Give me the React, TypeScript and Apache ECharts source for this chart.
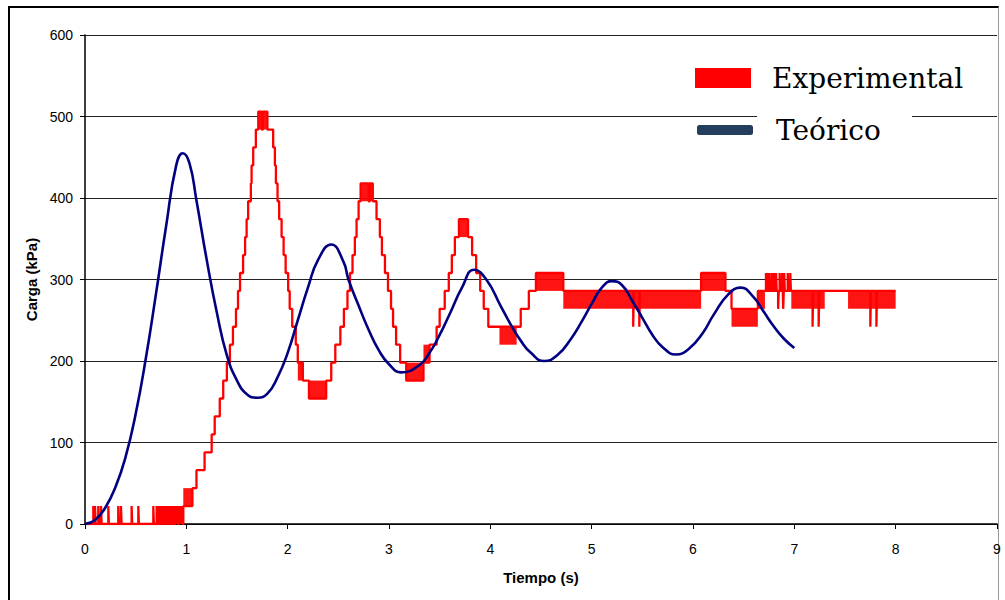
import React, { useEffect, useRef } from "react";
import * as echarts from "echarts";

// Theoretical load (kPa) vs time (s)
const theoretical: [number, number][] = [
  [0.0, 0], [0.1, 5], [0.2, 20], [0.3, 45], [0.4, 82], [0.5, 135], [0.6, 203],
  [0.7, 282], [0.8, 365], [0.9, 440], [0.965, 455], [1.03, 443], [1.1, 397],
  [1.2, 325], [1.3, 260], [1.4, 207], [1.5, 176], [1.6, 159], [1.7, 155],
  [1.8, 160], [1.9, 180], [2.0, 210], [2.1, 250], [2.2, 290], [2.3, 324],
  [2.43, 343], [2.55, 322], [2.6, 300], [2.7, 268], [2.8, 238],
  [2.9, 213], [3.0, 196], [3.12, 186], [3.3, 195], [3.4, 210],
  [3.5, 232], [3.6, 258], [3.72, 290], [3.84, 312], [3.96, 300],
  [4.1, 268], [4.2, 245], [4.3, 225], [4.4, 210], [4.53, 200],
  [4.66, 207], [4.8, 228], [4.9, 248], [5.0, 270], [5.1, 290],
  [5.2, 298], [5.3, 293], [5.4, 274], [5.5, 253], [5.6, 232], [5.7, 217],
  [5.83, 208], [5.96, 215], [6.1, 235], [6.2, 256], [6.35, 282],
  [6.47, 290], [6.6, 278], [6.7, 260], [6.8, 242], [6.9, 227],
  [7.0, 216],
];

// Experimental load: sample-and-hold steps [time, kPa]
const expSteps: [number, number][] = [
  [0, 0], [0.97, 22], [1.06, 44], [1.10, 66], [1.18, 88], [1.25, 110],
  [1.28, 132], [1.33, 154], [1.364, 176], [1.40, 198], [1.43, 220],
  [1.46, 242], [1.49, 264], [1.51, 286], [1.53, 308], [1.56, 330],
  [1.58, 352], [1.595, 374], [1.61, 396], [1.637, 418], [1.644, 440],
  [1.66, 462], [1.686, 484], [1.71, 506], [1.745, 484], [1.755, 506],
  [1.80, 484], [1.857, 462], [1.874, 440], [1.884, 418], [1.90, 396],
  [1.916, 374], [1.94, 352], [1.96, 330], [1.98, 308], [2.005, 286],
  [2.02, 264], [2.045, 242], [2.08, 220], [2.10, 198], [2.15, 176],
  [2.21, 154], [2.38, 176], [2.43, 198], [2.47, 220], [2.52, 242],
  [2.555, 264], [2.59, 286], [2.615, 308], [2.64, 330], [2.663, 352],
  [2.68, 374], [2.70, 396], [2.72, 418], [2.80, 396], [2.81, 418],
  [2.84, 396], [2.877, 374], [2.91, 352], [2.93, 330], [2.96, 308],
  [2.99, 286], [3.02, 264], [3.04, 242], [3.07, 220], [3.11, 198],
  [3.17, 176], [3.34, 198], [3.40, 220], [3.47, 242], [3.50, 264],
  [3.55, 286], [3.59, 308], [3.62, 330], [3.65, 352], [3.69, 374],
  [3.78, 352], [3.82, 330], [3.86, 308], [3.90, 286], [3.935, 264],
  [3.98, 242], [4.30, 264], [4.38, 286], [4.45, 308], [4.72, 286],
  [6.08, 308], [6.32, 286], [6.38, 264], [6.64, 286], [8.0, 286],
];

// Short single-sample spikes [time, base kPa, spike kPa]
const expSpikes: [number, number, number][] = [
  [0.082, 0, 22], [0.099, 0, 22], [0.131, 0, 22], [0.158, 0, 22], [0.23, 0, 22],
  [0.328, 0, 22], [0.355, 0, 22], [0.46, 0, 22], [0.526, 0, 22], [0.674, 0, 22],
  [0.707, 0, 22], [0.73, 0, 22], [0.75, 0, 22], [0.76, 0, 22], [0.775, 0, 22],
  [0.785, 0, 22], [0.80, 0, 22], [0.81, 0, 22], [0.825, 0, 22], [0.84, 0, 22],
  [0.85, 0, 22], [0.865, 0, 22], [0.875, 0, 22], [0.89, 0, 22], [0.90, 0, 22],
  [0.91, 0, 22], [0.925, 0, 22], [0.935, 0, 22], [0.945, 0, 22], [0.955, 0, 22],
  [5.41, 286, 242], [5.47, 286, 242],
  [6.72, 286, 308], [6.74, 286, 308], [6.755, 286, 308], [6.78, 286, 308],
  [6.80, 286, 308], [6.82, 286, 308], [6.84, 286, 264], [6.855, 286, 308],
  [6.88, 286, 308], [6.89, 286, 264], [6.90, 286, 308], [6.935, 286, 308],
  [6.96, 286, 308],
  [7.18, 286, 242], [7.24, 286, 242], [7.75, 286, 242], [7.81, 286, 242],
];

// Dense toggling between two adjacent levels [t start, t end, low kPa, high kPa]
const expBands: [number, number, number, number][] = [
  [0.97, 1.06, 22, 44],
  [1.71, 1.80, 484, 506],
  [2.10, 2.15, 176, 198],
  [2.21, 2.38, 154, 176],
  [2.72, 2.84, 396, 418],
  [3.17, 3.34, 176, 198],
  [3.34, 3.40, 198, 220],
  [3.69, 3.78, 352, 374],
  [4.09, 4.26, 220, 242],
  [4.45, 4.72, 286, 308],
  [4.72, 6.08, 264, 286],
  [6.08, 6.32, 286, 308],
  [6.38, 6.64, 242, 264],
  [6.64, 6.71, 264, 286],
  [6.97, 7.30, 264, 286],
  [7.53, 8.0, 264, 286],
];

const yTicks = { min: 0, max: 600, step: 100 };
const xTicks = { min: 0, max: 9, step: 1 };

export default function App() {
  const ref = useRef<HTMLDivElement>(null);

  useEffect(() => {
    if (!ref.current) return;
    const chart = echarts.init(ref.current, undefined, { renderer: "svg" });

    const expData: [number, number][] = [...expSteps];
    expSpikes.forEach(([t, base, peak]) => {
      expData.push([t, peak]);
      expData.push([t + 0.006, base]);
    });
    expData.sort((a, b) => a[0] - b[0]);

    const bandAreas = expBands.map(([t0, t1, lo, hi]) => [
      { coord: [t0, lo] },
      { coord: [t1, hi] },
    ]);

    const tickFont = { fontFamily: "Liberation Sans, Arial, sans-serif", fontSize: 14, color: "#000" };

    chart.setOption({
      animation: false,
      backgroundColor: "transparent",
      grid: { left: 85, right: 8, top: 35, bottom: 76, containLabel: false },
      xAxis: {
        type: "value",
        min: xTicks.min,
        max: xTicks.max,
        interval: xTicks.step,
        name: "Tiempo (s)",
        nameLocation: "middle",
        nameGap: 46,
        nameTextStyle: { fontFamily: "Liberation Sans, Arial, sans-serif", fontSize: 15, fontWeight: "bold", color: "#000" },
        axisLine: { show: true, onZero: false, lineStyle: { color: "#000", width: 1.5 } },
        axisTick: { show: true, length: 5, lineStyle: { color: "#000" } },
        axisLabel: { ...tickFont, margin: 18 },
        splitLine: { show: false },
      },
      yAxis: {
        type: "value",
        min: yTicks.min,
        max: yTicks.max,
        interval: yTicks.step,
        name: "Carga (kPa)",
        nameLocation: "middle",
        nameGap: 42,
        nameTextStyle: { fontFamily: "Liberation Sans, Arial, sans-serif", fontSize: 15, fontWeight: "bold", color: "#000" },
        axisLine: { show: true, lineStyle: { color: "#000", width: 1.5 } },
        axisTick: { show: true, length: 5, lineStyle: { color: "#000" } },
        axisLabel: { ...tickFont, margin: 12 },
        splitLine: { show: true, lineStyle: { color: "#222", width: 1.2 } },
      },
      legend: [
        {
          data: [{ name: "Experimental", icon: "rect" }],
          left: 695,
          top: 64,
          padding: 0,
          itemWidth: 56,
          itemHeight: 20,
          itemGap: 10,
          z: 6,
          textStyle: { fontFamily: "DejaVu Serif, serif", fontSize: 28, color: "#000", padding: [0, 0, 0, 16] },
        },
        {
          data: [{ name: "Teórico", icon: "roundRect", itemStyle: { color: "#253e5e" } }],
          left: 697,
          top: 116,
          padding: 0,
          itemWidth: 56,
          itemHeight: 10,
          z: 6,
          textStyle: { fontFamily: "DejaVu Serif, serif", fontSize: 28, color: "#000", padding: [0, 0, 0, 18] },
        },
      ],
      graphic: [
        {
          type: "rect",
          z: 5,
          shape: { x: 757, y: 104, width: 155, height: 44 },
          style: { fill: "#fff" },
          silent: true,
        },
      ],
      series: [
        {
          name: "Experimental",
          type: "line",
          step: "end",
          data: expData,
          showSymbol: false,
          symbol: "none",
          color: "#ff0000",
          itemStyle: { color: "#ff0000" },
          lineStyle: { color: "#ff0000", width: 2.3 },
          z: 2,
          markArea: {
            silent: true,
            itemStyle: { color: "rgba(255,0,0,0.92)", borderWidth: 0 },
            label: { show: false },
            data: bandAreas,
          },
        },
        {
          name: "Teórico",
          type: "line",
          smooth: true,
          data: theoretical,
          showSymbol: false,
          symbol: "none",
          color: "#000080",
          lineStyle: { color: "#000080", width: 2.6 },
          z: 3,
        },
      ],
    });

    return () => chart.dispose();
  }, []);

  return (
    <div style={{ position: "fixed", left: 0, top: 0, width: 1005, height: 600, background: "#fff", overflow: "hidden" }}>
      <div
        style={{
          position: "absolute",
          left: 8,
          top: 6,
          width: 988,
          height: 700,
          borderLeft: "2px solid #000",
          borderTop: "2px solid #000",
          borderRight: "1px solid #999",
        }}
      />
      <div ref={ref} style={{ position: "absolute", left: 0, top: 0, width: 1005, height: 600 }} />
    </div>
  );
}
